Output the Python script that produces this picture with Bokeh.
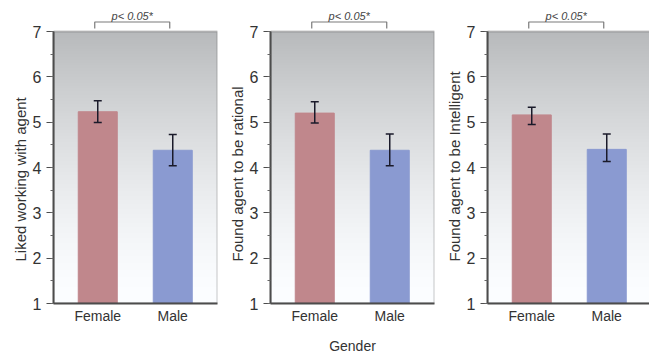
import numpy as np
from bokeh.plotting import figure
from bokeh.layouts import row
from bokeh.models import (Title, BoxAnnotation, ColumnDataSource,
                          FixedTicker, SingleIntervalTicker, Range1d)
from bokeh.core.properties import value
from bokeh.embed import file_html
from bokeh.resources import INLINE

# ---- data ----
categories = ["Female", "Male"]
bar_colors = ["#c0878c", "#8a9ad1"]

liked_mean = [5.23, 4.38]
liked_low = [4.99, 4.04]
liked_high = [5.47, 4.73]

rational_mean = [5.20, 4.38]
rational_low = [4.98, 4.04]
rational_high = [5.45, 4.74]

intelligent_mean = [5.16, 4.40]
intelligent_low = [4.95, 4.13]
intelligent_high = [5.33, 4.74]

y_titles = ["Liked working with agent", "Found agent to be rational", "Found agent to be Intelligent"]
sig_text = "p< 0.05*"
x_title = "Gender"

FONT = "Liberation Sans"
TXT = "#333333"
FRAME = "#4d4d4d"
ERR = "#1a1a2a"


def gradient_image():
    n = 256
    t = np.linspace(0, 1, n)
    v = 255 - 68 * t ** 1.5
    img = np.zeros((n, 1), dtype=np.uint32)
    view = img.view(dtype=np.uint8).reshape((n, 1, 4))
    view[:, 0, 0] = np.clip(v - 3, 0, 255).astype(np.uint8)
    view[:, 0, 1] = np.clip(v - 1, 0, 255).astype(np.uint8)
    view[:, 0, 2] = np.clip(v + 1, 0, 255).astype(np.uint8)
    view[:, 0, 3] = 255
    return img


def make_panel(ytitle, means, lows, highs, b_left, frame_w, b_right, xlabel=None):
    px = 75.0                 # pixels per category step
    x0 = -0.59
    x1 = x0 + frame_w / px
    unit = 272 / 6.0          # pixels per y unit
    frame_top = 8
    frame_h = 295
    frame_bottom = frame_top + frame_h
    y_top = 1 + frame_h / unit

    p = figure(frame_width=frame_w, frame_height=frame_h,
               x_range=Range1d(x0, x1), y_range=Range1d(1, y_top),
               output_backend="svg", toolbar_location=None,
               min_border_left=b_left, min_border_right=b_right,
               min_border_top=frame_top, min_border_bottom=356 - frame_bottom)
    p.outline_line_color = None
    p.xgrid.visible = False
    p.ygrid.visible = False
    p.background_fill_color = "white"
    p.border_fill_color = "white"

    # background gradient inside the box
    p.image_rgba(image=[gradient_image()], x=x0, y=1, dw=x1 - x0, dh=6)

    xs = list(range(len(categories)))
    src = ColumnDataSource(dict(x=xs, top=means, low=lows, high=highs, color=bar_colors))
    p.vbar(x="x", top="top", bottom=1, width=0.52, color="color", source=src)

    # error bars
    p.segment(x0="x", y0="low", x1="x", y1="high", source=src, line_color=ERR, line_width=1.5)
    p.scatter(x="x", y="high", source=src, marker="dash", size=8, line_color=ERR, line_width=1.5)
    p.scatter(x="x", y="low", source=src, marker="dash", size=8, line_color=ERR, line_width=1.5)

    box = BoxAnnotation(bottom=1, top=7, fill_color=None, line_color=FRAME, line_width=2)
    p.add_layout(box)

    # significance bracket above the box
    yb0 = 1 + (frame_bottom - 28) / unit
    yb1 = 1 + (frame_bottom - 21.5) / unit
    xa = xs[0] - 0.04
    xb = xs[1] - 0.04
    p.line(x=[xa, xa, xb, xb], y=[yb0, yb1, yb1, yb0], line_color="#7a7a7a", line_width=1.2)
    p.text(x=[(xa + xb) / 2], y=[1 + (frame_bottom - 15) / unit], text=[sig_text],
           text_font=value(FONT), text_font_style="italic", text_font_size="11px",
           text_color="#444444", text_align="center", text_baseline="middle")

    # y axis
    yax = p.yaxis[0]
    yax.ticker = SingleIntervalTicker(interval=1, num_minor_ticks=2)
    yax.bounds = (1, 7)
    yax.axis_line_color = FRAME
    yax.axis_line_width = 2
    yax.major_tick_out = 7
    yax.major_tick_in = 0
    yax.major_tick_line_color = FRAME
    yax.major_tick_line_width = 1.2
    yax.minor_tick_out = 3
    yax.minor_tick_in = 0
    yax.minor_tick_line_color = "#666666"
    yax.major_label_text_font = FONT
    yax.major_label_text_font_size = "16px"
    yax.major_label_text_color = TXT
    yax.major_label_standoff = 5

    # y title as a vertical side title, bottom-aligned
    t = Title(text=ytitle, align="left", offset=frame_bottom - 261,
              text_font=FONT, text_font_size="15px", text_font_style="normal",
              text_color=TXT, standoff=2)
    p.add_layout(t, "left")

    # x axis
    xax = p.xaxis[0]
    xax.ticker = FixedTicker(ticks=xs)
    xax.major_label_overrides = {i: c for i, c in zip(xs, categories)}
    xax.axis_line_color = FRAME
    xax.axis_line_width = 2
    xax.major_tick_line_color = None
    xax.major_tick_out = 0
    xax.major_tick_in = 0
    xax.minor_tick_line_color = None
    xax.minor_tick_out = 0
    xax.minor_tick_in = 0
    xax.major_label_standoff = 4
    xax.major_label_text_font = FONT
    xax.major_label_text_font_size = "14px"
    xax.major_label_text_color = TXT
    if xlabel:
        xax.axis_label = xlabel
        xax.axis_label_text_font = FONT
        xax.axis_label_text_font_size = "14px"
        xax.axis_label_text_font_style = "normal"
        xax.axis_label_text_color = TXT
        xax.axis_label_standoff = 11
    return p


p1 = make_panel(y_titles[0], liked_mean, liked_low, liked_high, 53, 164, 8)
p2 = make_panel(y_titles[1], rational_mean, rational_low, rational_high, 44, 164, 8, x_title)
p3 = make_panel(y_titles[2], intelligent_mean, intelligent_low, intelligent_high, 42, 164, 2)

layout = row(p1, p2, p3)
open("out.html", "w").write(file_html(layout, INLINE))
